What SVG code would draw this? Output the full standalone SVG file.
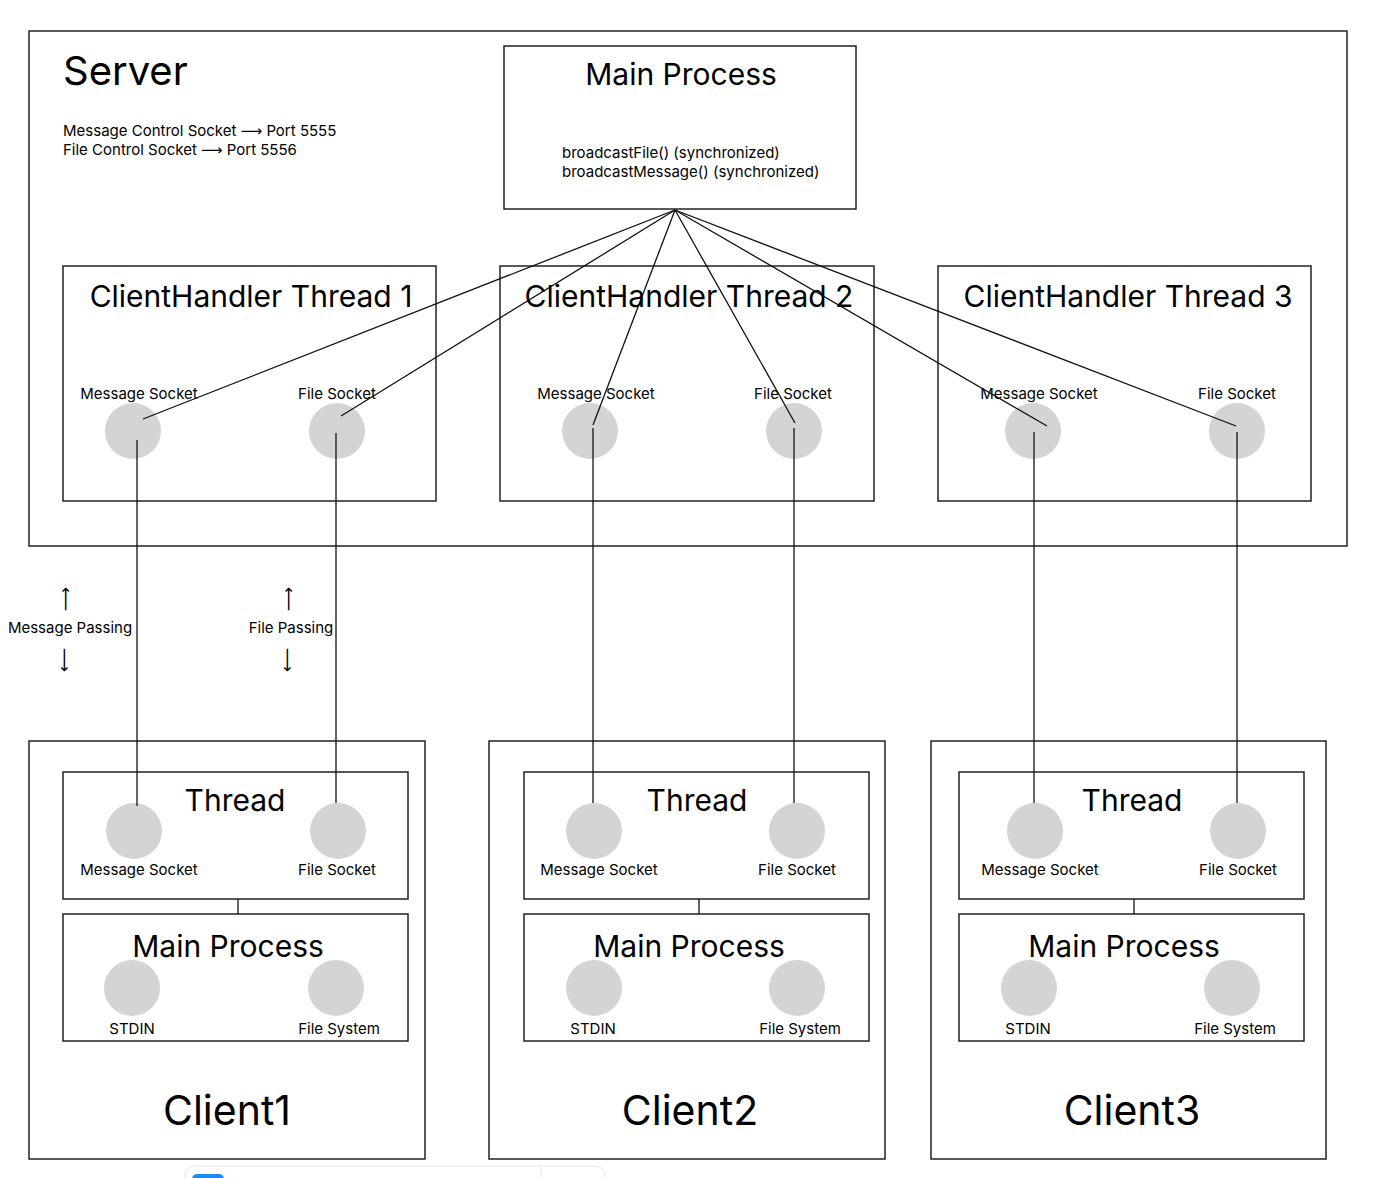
<svg xmlns="http://www.w3.org/2000/svg" width="1393" height="1178" viewBox="0 0 1393 1178">
<style>
.box{fill:none;stroke:#222;stroke-width:1.5}
.sock{fill:#d4d4d4}
.t{font-family:Inter,"Liberation Sans",sans-serif;fill:#000}
.big{font-size:40px}
.cl{font-size:41px}
.ttl{font-size:30px}
.sm{font-size:15px}
.arr{font-family:"DejaVu Sans",sans-serif;font-size:17px;fill:#000}
.con{stroke:#111;stroke-width:1.3;fill:none}
</style>
<rect width="1393" height="1178" fill="#fff"/>
<g id="server">
<rect class="box" x="29" y="31" width="1318" height="515"/>
<text class="t big" x="63" y="85">Server</text>
<text class="t sm" x="63" y="136">Message Control Socket <tspan font-family="DejaVu Sans">⟶</tspan> Port 5555</text>
<text class="t sm" x="63" y="155">File Control Socket <tspan font-family="DejaVu Sans">⟶</tspan> Port 5556</text>
</g>
<g id="server-main">
<rect class="box" x="504" y="46" width="352" height="163"/>
<text class="t ttl" x="681" y="85" text-anchor="middle">Main Process</text>
<text class="t sm" x="562" y="158">broadcastFile() (synchronized)</text>
<text class="t sm" x="562" y="177">broadcastMessage() (synchronized)</text>
</g>
<g id="handler1">
<rect class="box" x="63" y="266" width="373" height="235"/>
<text class="t ttl" x="251" y="307" text-anchor="middle">ClientHandler Thread 1</text>
<text class="t sm" x="139" y="399" text-anchor="middle">Message Socket</text>
<text class="t sm" x="337" y="399" text-anchor="middle">File Socket</text>
<circle class="sock" cx="133" cy="431" r="28"/>
<circle class="sock" cx="337" cy="431" r="28"/>
</g>
<g id="handler2">
<rect class="box" x="500" y="266" width="374" height="235"/>
<text class="t ttl" x="689" y="307" text-anchor="middle">ClientHandler Thread 2</text>
<text class="t sm" x="596" y="399" text-anchor="middle">Message Socket</text>
<text class="t sm" x="793" y="399" text-anchor="middle">File Socket</text>
<circle class="sock" cx="590" cy="431" r="28"/>
<circle class="sock" cx="794" cy="431" r="28"/>
</g>
<g id="handler3">
<rect class="box" x="938" y="266" width="373" height="235"/>
<text class="t ttl" x="1128" y="307" text-anchor="middle">ClientHandler Thread 3</text>
<text class="t sm" x="1039" y="399" text-anchor="middle">Message Socket</text>
<text class="t sm" x="1237" y="399" text-anchor="middle">File Socket</text>
<circle class="sock" cx="1033" cy="431" r="28"/>
<circle class="sock" cx="1237" cy="431" r="28"/>
</g>
<g id="passing-labels">
<text class="arr" transform="translate(65 599) rotate(-90)" text-anchor="middle" dominant-baseline="central">⟶</text>
<text class="t sm" x="70" y="633" text-anchor="middle">Message Passing</text>
<text class="arr" transform="translate(65 660) rotate(90)" text-anchor="middle" dominant-baseline="central">⟶</text>
<text class="arr" transform="translate(288 599) rotate(-90)" text-anchor="middle" dominant-baseline="central">⟶</text>
<text class="t sm" x="291" y="633" text-anchor="middle">File Passing</text>
<text class="arr" transform="translate(288 660) rotate(90)" text-anchor="middle" dominant-baseline="central">⟶</text>
</g>
<g id="client1">
<rect class="box" x="29" y="741" width="396" height="418"/>
<rect class="box" x="63" y="772" width="345" height="127"/>
<text class="t ttl" x="235" y="811" text-anchor="middle">Thread</text>
<circle class="sock" cx="134" cy="831" r="28"/>
<circle class="sock" cx="338" cy="831" r="28"/>
<text class="t sm" x="139" y="875" text-anchor="middle">Message Socket</text>
<text class="t sm" x="337" y="875" text-anchor="middle">File Socket</text>
<rect class="box" x="63" y="914" width="345" height="127"/>
<text class="t ttl" x="228" y="957" text-anchor="middle">Main Process</text>
<circle class="sock" cx="132" cy="988" r="28"/>
<circle class="sock" cx="336" cy="988" r="28"/>
<text class="t sm" x="132" y="1034" text-anchor="middle">STDIN</text>
<text class="t sm" x="339" y="1034" text-anchor="middle">File System</text>
<text class="t cl" x="227" y="1125" text-anchor="middle">Client1</text>
</g>
<g id="client2">
<rect class="box" x="489" y="741" width="396" height="418"/>
<rect class="box" x="524" y="772" width="345" height="127"/>
<text class="t ttl" x="697" y="811" text-anchor="middle">Thread</text>
<circle class="sock" cx="594" cy="831" r="28"/>
<circle class="sock" cx="797" cy="831" r="28"/>
<text class="t sm" x="599" y="875" text-anchor="middle">Message Socket</text>
<text class="t sm" x="797" y="875" text-anchor="middle">File Socket</text>
<rect class="box" x="524" y="914" width="345" height="127"/>
<text class="t ttl" x="689" y="957" text-anchor="middle">Main Process</text>
<circle class="sock" cx="594" cy="988" r="28"/>
<circle class="sock" cx="797" cy="988" r="28"/>
<text class="t sm" x="593" y="1034" text-anchor="middle">STDIN</text>
<text class="t sm" x="800" y="1034" text-anchor="middle">File System</text>
<text class="t cl" x="690" y="1125" text-anchor="middle">Client2</text>
</g>
<g id="client3">
<rect class="box" x="931" y="741" width="395" height="418"/>
<rect class="box" x="959" y="772" width="345" height="127"/>
<text class="t ttl" x="1132" y="811" text-anchor="middle">Thread</text>
<circle class="sock" cx="1035" cy="831" r="28"/>
<circle class="sock" cx="1238" cy="831" r="28"/>
<text class="t sm" x="1040" y="875" text-anchor="middle">Message Socket</text>
<text class="t sm" x="1238" y="875" text-anchor="middle">File Socket</text>
<rect class="box" x="959" y="914" width="345" height="127"/>
<text class="t ttl" x="1124" y="957" text-anchor="middle">Main Process</text>
<circle class="sock" cx="1029" cy="988" r="28"/>
<circle class="sock" cx="1232" cy="988" r="28"/>
<text class="t sm" x="1028" y="1034" text-anchor="middle">STDIN</text>
<text class="t sm" x="1235" y="1034" text-anchor="middle">File System</text>
<text class="t cl" x="1132" y="1125" text-anchor="middle">Client3</text>
</g>
<g id="connectors">
<line class="con" x1="675" y1="210" x2="143" y2="419"/>
<line class="con" x1="675" y1="210" x2="341" y2="416"/>
<line class="con" x1="675" y1="210" x2="593" y2="425"/>
<line class="con" x1="675" y1="210" x2="795" y2="423"/>
<line class="con" x1="675" y1="210" x2="1047" y2="426"/>
<line class="con" x1="675" y1="210" x2="1236" y2="426"/>
<line class="con" x1="137" y1="440" x2="137" y2="806"/>
<line class="con" x1="336" y1="433" x2="336" y2="803"/>
<line class="con" x1="593" y1="428" x2="593" y2="803"/>
<line class="con" x1="794" y1="428" x2="794" y2="803"/>
<line class="con" x1="1034" y1="432" x2="1034" y2="803"/>
<line class="con" x1="1237" y1="432" x2="1237" y2="803"/>
<line class="con" x1="238" y1="899" x2="238" y2="914"/>
<line class="con" x1="699" y1="899" x2="699" y2="914"/>
<line class="con" x1="1134" y1="899" x2="1134" y2="914"/>
</g>
<g id="toolbar-edge">
<rect x="185" y="1166" width="420" height="30" rx="10" fill="#fff" stroke="#e6e6e6" stroke-width="1"/>
<line x1="541" y1="1166" x2="541" y2="1178" stroke="#e6e6e6" stroke-width="1"/>
<rect x="192" y="1174" width="32" height="20" rx="5" fill="#1a8cff"/>
</g>
</svg>
